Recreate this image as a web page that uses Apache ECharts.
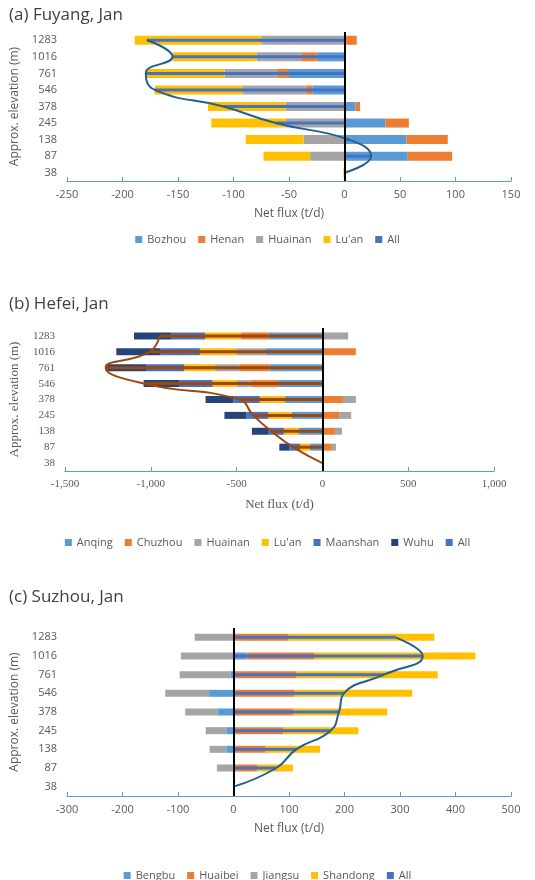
<!DOCTYPE html>
<html>
<head>
<meta charset="UTF-8">
<script src="https://cdn.jsdelivr.net/npm/echarts@6/dist/echarts.min.js"></script>
<style>html,body{margin:0;background:#fff}#main{width:535px;height:880px}</style>
</head>
<body>
<div id="main"></div>
<script>
// elevation categories, bottom to top
var elev = ['38', '87', '138', '245', '378', '546', '761', '1016', '1283'];

// (a) Fuyang
var fyNames = ['Bozhou', 'Henan', 'Huainan', "Lu'an"];
var fyBozhou = [0, 57, 56, 37, 10, -29, -50, -25, 0];
var fyHenan = [0, 40, 37, 21, 4, -6, -11, -14, 11];
var fyHuainan = [0, -31, -37, -53, -53, -57, -47, -40, -75];
var fyLuan = [-1, -42, -52, -67, -70, -79, -71, -76, -114];
var fyAll = [0, 24, 4, -62, -109, -171, -179, -155, -178];

// (b) Hefei
var hfNames = ['Anqing', 'Chuzhou', 'Huainan', "Lu'an", 'Maanshan', 'Wuhu'];
var hfAnqing = [0, -75, -139, -180, -218, -258, -308, -333, -314];
var hfChuzhou = [0, 55, 73, 98, 120, -160, -175, 195, -160];
var hfHuainan = [0, 24, 41, 70, 75, -83, -145, -169, 150];
var hfLuan = [0, -56, -86, -135, -147, -139, -178, -212, -210];
var hfMaanshan = [0, -60, -88, -128, -154, -195, -222, -229, -198];
var hfWuhu = [0, -60, -98, -128, -162, -207, -235, -258, -216];
var hfAll = [0, -171, -297, -403, -485, -1041, -1263, -1007, -948];

// (c) Suzhou
var szNames = ['Bengbu', 'Huaibei', 'Jiangsu', 'Shandong'];
var szBengbu = [0, -2, -13, -13, -29, -44, -5, 25, 0];
var szHuaibei = [0, 43, 58, 90, 108, 110, 113, 120, 99];
var szJiangsu = [0, -28, -30, -37, -58, -79, -92, -95, -70];
var szShandong = [0, 64, 98, 135, 169, 212, 255, 291, 263];
var szAll = [0, 77, 113, 175, 190, 199, 271, 341, 292];

var sans = 'Open Sans';
var serif = 'Liberation Serif';

var panels = [
  {title: '(a) Fuyang, Jan', top: 32, height: 149, left: 67, right: 24, min: -250, max: 150, interval: 50,
   names: fyNames, data: [fyBozhou, fyHenan, fyHuainan, fyLuan], all: fyAll,
   colors: ['#5B9BD5', '#ED7D31', '#A5A5A5', '#FFC000'], allColor: '#4472C4', lineColor: '#255E91',
   barW: 9, font: sans, titleTop: 2, legendTop: 229},
  {title: '(b) Hefei, Jan', top: 328, height: 143, left: 52, right: 41, min: -1500, max: 1000, interval: 500,
   names: hfNames, data: [hfAnqing, hfChuzhou, hfHuainan, hfLuan, hfMaanshan, hfWuhu], all: hfAll,
   colors: ['#5B9BD5', '#ED7D31', '#A5A5A5', '#FFC000', '#4472C4', '#264478'], allColor: '#9E480E', lineColor: '#9E480E',
   barW: 7, font: serif, titleTop: 291, legendTop: 532},
  {title: '(c) Suzhou, Jan', top: 628, height: 168, left: 67, right: 24, min: -300, max: 500, interval: 100,
   names: szNames, data: [szBengbu, szHuaibei, szJiangsu, szShandong], all: szAll,
   colors: ['#5B9BD5', '#ED7D31', '#A5A5A5', '#FFC000'], allColor: '#4472C4', lineColor: '#255E91',
   barW: 7, font: sans, titleTop: 584, legendTop: 865}
];

var option = {
  animation: false,
  backgroundColor: '#fff',
  textStyle: {fontFamily: sans},
  title: [], grid: [], xAxis: [], yAxis: [], legend: [], series: []
};

panels.forEach(function (p, i) {
  option.title.push({text: p.title, left: 4, top: p.titleTop,
    textStyle: {fontFamily: sans, fontSize: 17, fontWeight: 'normal', color: '#404040'}});
  option.grid.push({left: p.left, right: p.right, top: p.top, height: p.height});
  option.xAxis.push({type: 'value', gridIndex: i, min: p.min, max: p.max, interval: p.interval,
    name: 'Net flux (t/d)', nameLocation: 'middle', nameGap: 27,
    nameTextStyle: {fontFamily: p.font, fontSize: p.font === serif ? 13 : 12, color: '#595959'},
    axisLine: {show: true, lineStyle: {color: '#5B9BD5', width: 1.2}},
    axisTick: {show: true, inside: true, length: 4, lineStyle: {color: '#5B9BD5'}},
    axisLabel: {fontFamily: p.font, fontSize: 11, color: '#595959', margin: 8},
    splitLine: {show: false}});
  option.yAxis.push({type: 'category', gridIndex: i, data: elev,
    name: 'Approx. elevation (m)', nameLocation: 'middle', nameGap: 44, nameRotate: 90,
    nameTextStyle: {fontFamily: p.font, fontSize: p.font === serif ? 13 : 12, color: '#595959'},
    axisLine: {show: false}, axisTick: {show: false},
    axisLabel: {fontFamily: p.font, fontSize: 11, color: '#595959', margin: 10}});
  option.yAxis.push({type: 'category', gridIndex: i, data: elev, show: false});
  var xi = i, yi = 2 * i, yh = 2 * i + 1;
  p.names.forEach(function (n, k) {
    var s = {name: n, type: 'bar', stack: 'p' + i, xAxisIndex: xi, yAxisIndex: yi,
      data: p.data[k], barWidth: p.barW, itemStyle: {color: p.colors[k]}};
    if (k === 0) {
      s.markLine = {symbol: 'none', silent: true, label: {show: false},
        lineStyle: {color: '#000', width: 2, type: 'solid'}, data: [{xAxis: 0}]};
    }
    option.series.push(s);
  });
  option.series.push({name: 'All', type: 'bar', xAxisIndex: xi, yAxisIndex: yh,
    data: p.all, barWidth: 3, itemStyle: {color: p.allColor}, z: 3});
  option.series.push({name: 'All line ' + i, type: 'line', xAxisIndex: xi, yAxisIndex: yh,
    data: p.all, smooth: true, symbol: 'none', lineStyle: {color: p.lineColor, width: 2}, z: 4});
  option.legend.push({top: p.legendTop, left: 'center', data: p.names.concat(['All']),
    icon: 'rect', itemWidth: 7, itemHeight: 7, itemGap: 12,
    textStyle: {fontFamily: sans, fontSize: 11, color: '#595959'}});
});

// legend filtering per panel: each legend only lists its own names, shared names keep same toggling
var chart = echarts.init(document.getElementById('main'));
chart.setOption(option);
</script>
</body>
</html>
